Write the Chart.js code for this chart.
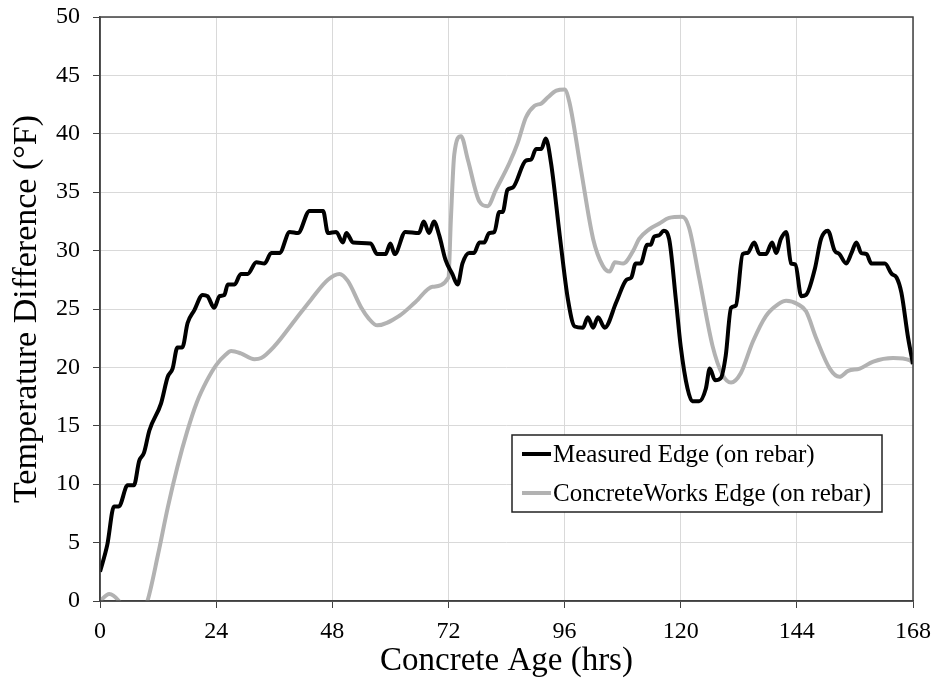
<!DOCTYPE html>
<html>
<head>
<meta charset="utf-8">
<script src="https://cdn.jsdelivr.net/npm/chart.js@4/dist/chart.umd.min.js"></script>
<style>
  html, body { margin: 0; padding: 0; background: #fff; }
  #wrap { width: 937px; height: 684px; }
</style>
</head>
<body>
<div id="wrap"><canvas id="tempChart" width="937" height="684"></canvas></div>
<script>
// --- data ---
const xTicks = [0, 24, 48, 72, 96, 120, 144, 168];
const yTicks = [0, 5, 10, 15, 20, 25, 30, 35, 40, 45, 50];

const measuredLabel = "Measured Edge (on rebar)";
const measuredHours = [0, 1.5, 2.9, 3.9, 5.7, 7.0, 8.1, 9.1, 10.2, 12.6, 14.0, 15.0, 16.0, 17.0, 18.1, 19.5,
  21.2, 22.2, 23.6, 24.7, 25.7, 26.4, 27.8, 29.1, 30.5, 32.3, 34.0, 35.4, 37.1, 39.2, 40.9, 43.3,
  46.1, 47.1, 48.8, 50.2, 50.9, 52.3, 55.9, 57.3, 59.0, 60.0, 60.9, 63.1, 65.9, 66.9, 68.0, 69.0,
  70.1, 71.4, 72.8, 73.9, 74.9, 76.3, 77.3, 78.4, 79.4, 80.4, 81.5, 82.5, 83.2, 84.2, 85.3, 88.0,
  89.1, 90.1, 91.2, 92.1, 93.2, 95.0, 96.7, 98.1, 99.8, 100.8, 101.9, 102.9, 104.3, 106.7, 108.8,
  109.8, 110.7, 111.7, 113.1, 113.8, 114.5, 115.5, 116.5, 117.6, 119.0, 120.0, 121.4, 122.4, 123.8,
  125.2, 126.0, 127.1, 128.3, 129.3, 130.4, 131.4, 132.8, 133.8, 135.2, 136.3, 137.6, 138.9, 139.7,
  140.7, 141.8, 142.8, 143.7, 144.9, 145.9, 147.7, 149.0, 150.4, 151.8, 152.8, 154.2, 155.3, 156.3,
  157.3, 158.4, 159.4, 162.2, 163.6, 164.6, 165.6, 167.0, 168.0];
const measuredTemps = [2.5, 4.8, 8.1, 8.1, 9.9, 9.9, 12.0, 12.7, 14.6, 16.9, 19.2, 19.9, 21.7, 21.7, 23.8, 24.9,
  26.2, 26.1, 25.1, 26.1, 26.2, 27.1, 27.1, 28.0, 28.0, 29.0, 28.9, 29.8, 29.8, 31.6, 31.5, 33.4,
  33.4, 31.5, 31.6, 30.7, 31.5, 30.7, 30.6, 29.7, 29.7, 30.6, 29.7, 31.6, 31.5, 32.5, 31.5, 32.5,
  31.3, 29.2, 28.0, 27.1, 28.9, 29.8, 29.8, 30.7, 30.7, 31.5, 31.6, 33.3, 33.3, 35.2, 35.4, 37.7,
  37.8, 38.7, 38.7, 39.6, 37.5, 31.3, 25.8, 23.5, 23.4, 24.3, 23.4, 24.3, 23.4, 25.6, 27.5,
  27.7, 28.9, 28.9, 30.5, 30.5, 31.2, 31.3, 31.7, 31.0, 25.8, 21.8, 18.2, 17.1, 17.1,
  18.2, 19.9, 18.9, 19.1, 21.0, 25.1, 25.3, 29.7, 29.8, 30.7, 29.7, 29.7, 30.7, 29.8,
  31.0, 31.6, 28.9, 28.8, 26.1, 26.2, 28.4, 31.0, 31.7, 30.0, 29.7, 28.9, 29.8, 30.7,
  29.8, 29.7, 28.9, 28.9, 28.0, 27.7, 26.4, 22.5, 20.3];

const modelLabel = "ConcreteWorks Edge (on rebar)";
const modelHours = [0, 1.9, 3.9, 6.0, 8.0, 9.8, 12.0, 14.0, 16.0, 18.0, 20.0, 22.0, 24.0, 26.0, 27.1, 29.1,
  31.9, 33.3, 36.0, 40.2, 43.6, 47.1, 49.5, 51.2, 54.0, 55.5, 57.3, 61.8, 65.2, 68.7, 72.0, 72.5,
  73.2, 74.6, 76.0, 78.4, 80.1, 81.8, 84.6, 86.3, 88.0, 89.8, 91.2, 92.5, 94.3, 96.0, 97.0, 99.4,
  101.9, 103.9, 105.3, 106.4, 108.1, 110.2, 111.4, 113.4, 115.5, 117.6, 120.3, 121.7, 123.8, 126.6,
  128.6, 130.4, 132.4, 134.9, 137.6, 140.1, 141.8, 144.2, 145.9, 148.0, 150.8, 152.8, 154.6, 157.0,
  159.8, 163.9, 167.4, 168.0];
const modelTemps = [0, 0.6, 0, -1.5, -1.5, 0, 4.0, 8.0, 11.5, 14.5, 17.0, 18.8, 20.2, 21.1, 21.4, 21.2,
  20.7, 20.8, 21.8, 24.0, 25.8, 27.5, 28.0, 27.4, 25.1, 24.2, 23.6, 24.4, 25.6, 26.9, 27.7, 32.6,
  38.2, 39.8, 37.8, 34.2, 33.8, 35.2, 37.5, 39.2, 41.4, 42.4, 42.6, 43.1, 43.7, 43.8, 42.7, 36.9,
  31.0, 28.7, 28.2, 29.0, 28.9, 30.0, 31.0, 31.8, 32.3, 32.8, 32.9, 32.0, 27.7, 21.8,
  19.4, 18.7, 19.5, 22.2, 24.4, 25.4, 25.7, 25.4, 24.8, 22.5, 19.9, 19.2, 19.7, 19.9,
  20.5, 20.8, 20.6, 20.3];

const serif = "'Liberation Serif', 'Times New Roman', serif";
const axisDark = "#404040";

function toPoints(xs, ys) {
  return xs.map((x, i) => ({ x: x, y: ys[i] }));
}

// box round the plot area (top and right sides too)
const frameBox = {
  id: "frameBox",
  afterDatasetsDraw(chart) {
    const { ctx, chartArea: a } = chart;
    ctx.save();
    ctx.strokeStyle = axisDark;
    ctx.lineWidth = 1.5;
    ctx.strokeRect(a.left, a.top, a.right - a.left, a.bottom - a.top);
    ctx.restore();
  }
};

// legend inside the plot, lower right
const boxLegend = {
  id: "boxLegend",
  afterDraw(chart) {
    const { ctx, chartArea: a } = chart;
    const left = a.left + 412, top = a.top + 418, w = 370, h = 77;
    ctx.save();
    ctx.fillStyle = "#fff";
    ctx.fillRect(left, top, w, h);
    ctx.strokeStyle = "#222";
    ctx.lineWidth = 1.5;
    ctx.strokeRect(left, top, w, h);
    ctx.font = "25px " + serif;
    ctx.textBaseline = "middle";
    chart.data.datasets.forEach((ds, i) => {
      const y = top + 19 + i * 39;
      ctx.strokeStyle = ds.borderColor;
      ctx.lineWidth = 4;
      ctx.beginPath();
      ctx.moveTo(left + 10, y);
      ctx.lineTo(left + 39, y);
      ctx.stroke();
      ctx.fillStyle = "#000";
      ctx.fillText(ds.label, left + 41, y + 1);
    });
    ctx.restore();
  }
};

const ctx = document.getElementById("tempChart").getContext("2d");
const tempChart = new Chart(ctx, {
  type: "line",
  data: {
    datasets: [
      {
        label: measuredLabel,
        data: toPoints(measuredHours, measuredTemps),
        borderColor: "#000000",
        borderWidth: 4,
        pointRadius: 0,
        cubicInterpolationMode: "monotone",
        fill: false
      },
      {
        label: modelLabel,
        data: toPoints(modelHours, modelTemps),
        borderColor: "#b2b2b2",
        borderWidth: 4,
        pointRadius: 0,
        cubicInterpolationMode: "monotone",
        fill: false
      }
    ]
  },
  options: {
    responsive: false,
    animation: false,
    devicePixelRatio: 1,
    layout: { padding: { top: 17, right: 24, left: 0, bottom: 0 } },
    plugins: {
      legend: { display: false },
      tooltip: { enabled: false }
    },
    scales: {
      x: {
        type: "linear",
        min: xTicks[0],
        max: xTicks[xTicks.length - 1],
        afterBuildTicks: (scale) => { scale.ticks = xTicks.map(v => ({ value: v })); },
        afterFit: (scale) => {
          scale.height = 83;
          scale.paddingLeft = 0;
          scale.paddingRight = 0;
        },
        ticks: { color: "#000", font: { family: serif, size: 24 }, padding: 9, maxRotation: 0 },
        grid: { color: "#d9d9d9", lineWidth: 1, tickLength: 7, tickColor: axisDark },
        border: { color: axisDark, width: 1.5 },
        title: {
          display: true,
          text: "Concrete Age (hrs)",
          color: "#000",
          font: { family: serif, size: 33 },
          padding: { top: 0, bottom: 3 }
        }
      },
      y: {
        min: yTicks[0],
        max: yTicks[yTicks.length - 1],
        afterBuildTicks: (scale) => { scale.ticks = yTicks.map(v => ({ value: v })); },
        afterFit: (scale) => {
          scale.width = 100;
          scale.paddingTop = 0;
          scale.paddingBottom = 0;
        },
        ticks: { color: "#000", font: { family: serif, size: 24 }, padding: 13 },
        grid: { color: "#d9d9d9", lineWidth: 1, tickLength: 7, tickColor: axisDark },
        border: { color: axisDark, width: 1.5 },
        title: {
          display: true,
          text: "Temperature Difference (°F)",
          color: "#000",
          font: { family: serif, size: 34 },
          padding: { top: 7, bottom: 0 }
        }
      }
    }
  },
  plugins: [frameBox, boxLegend]
});
</script>
</body>
</html>
